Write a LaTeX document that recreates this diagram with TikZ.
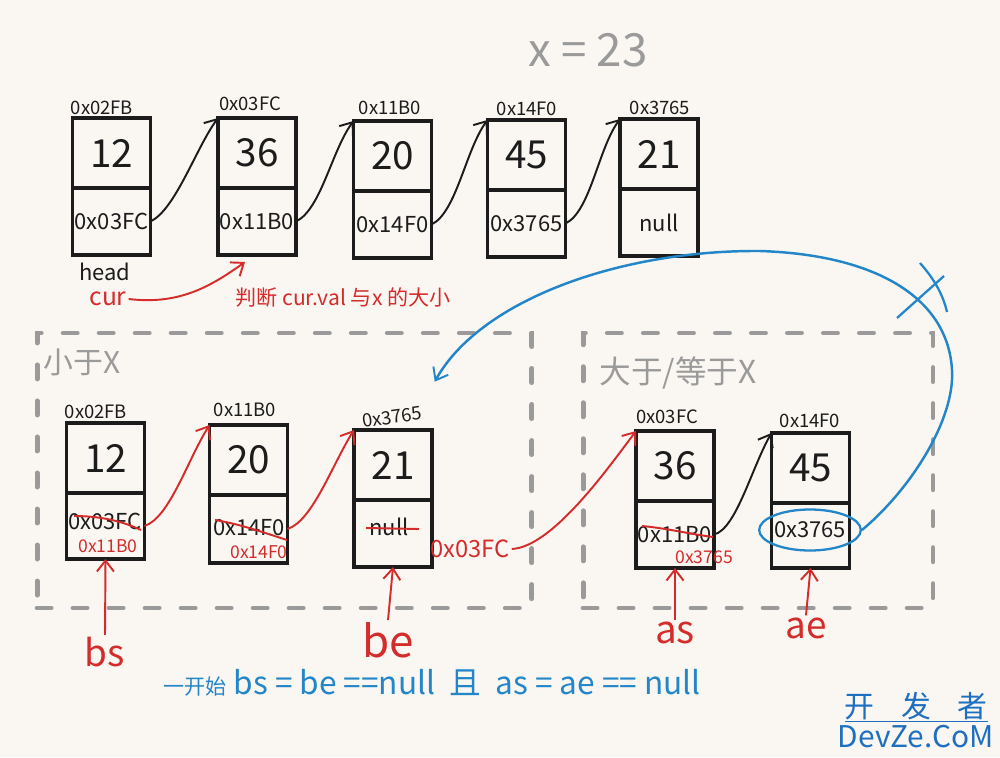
\documentclass[tikz,border=0pt]{standalone}
\usepackage{fontspec}
\setmainfont{Noto Sans CJK SC}
\usetikzlibrary{arrows.meta,shapes.geometric}
\definecolor{bg}{HTML}{FAF7F2}
\definecolor{inkred}{HTML}{D42B2B}
\definecolor{inkblue}{HTML}{2386C8}
\definecolor{inkgray}{HTML}{9A9A9A}
\definecolor{ink}{HTML}{1C1C1C}
\definecolor{wmblue}{HTML}{1F6FC1}
\newcommand{\fs}[1]{\fontsize{#1}{#1}\selectfont}
\begin{document}
\begin{tikzpicture}[x=0.02cm,y=-0.02cm,
  valbox/.style={draw=ink, line width=2pt, outer sep=0pt, minimum width=1.56cm, minimum height=1.4cm, inner sep=0pt, text=ink, font=\fs{22}},
  ptrbox/.style={draw=ink, line width=2pt, outer sep=0pt, minimum width=1.56cm, minimum height=1.34cm, inner sep=0pt, text=ink, font=\fs{12.5}},
  addr/.style={text=ink, font=\fs{10.5}, inner sep=1pt},
  ptrtext/.style={text=ink, font=\fs{12.5}, inner sep=1pt},
  newval/.style={text=inkred, font=\fs{10}, inner sep=1pt},
  tip/.style={-{Straight Barb[length=2.2mm,width=3.4mm,line width=1.1pt]}},
  link/.style={draw=ink, line width=1.1pt, tip},
  redlink/.style={draw=inkred, line width=1.1pt, tip},
  bluelink/.style={draw=inkblue, line width=1.4pt, tip},
  strike/.style={draw=inkred, line width=1.1pt},
  groupbox/.style={draw=inkgray, line width=2.8pt, dash pattern=on 8pt off 12.5pt, line cap=round, inner sep=0pt},
  grouplabel/.style={text=inkgray, font=\fs{17}, inner sep=0pt},
  ptrlabel/.style={text=inkred, inner sep=1pt}
]
\useasboundingbox[fill=bg] (0,0) rectangle (1000,757);

% title
\node[text=inkgray, font=\fs{26}] (xeq) at (588,50) {x = 23};

% ---------- top list ----------
\node[valbox, anchor=north] (t1v) at (111.5,118) {12};
\node[ptrbox, anchor=north] (t1p) at (t1v.south) {0x03FC};
\node[valbox, anchor=north] (t2v) at (257,118) {36};
\node[ptrbox, anchor=north] (t2p) at (t2v.south) {0x11B0};
\node[valbox, anchor=north] (t3v) at (392.5,121) {20};
\node[ptrbox, anchor=north] (t3p) at (t3v.south) {0x14F0};
\node[valbox, anchor=north] (t4v) at (526.5,120) {45};
\node[ptrbox, anchor=north] (t4p) at (t4v.south) {0x3765};
\node[valbox, anchor=north] (t5v) at (659,119) {21};
\node[ptrbox, anchor=north] (t5p) at (t5v.south) {null};

\node[addr] (t1a) at (102,108) {0x02FB};
\node[addr] (t2a) at (250,104) {0x03FC};
\node[addr] (t3a) at (390,108) {0x11B0};
\node[addr] (t4a) at (527,109) {0x14F0};
\node[addr] (t5a) at (660,108) {0x3765};

\draw[link] (t1p.east) .. controls +(25,-12) and +(-22,30) .. (t2v.north west);
\draw[link] (t2p.east) .. controls +(25,-12) and +(-22,30) .. (t3v.north west);
\draw[link] (t3p.east) .. controls +(25,-12) and +(-22,30) .. (t4v.north west);
\draw[link] (t4p.east) .. controls +(25,-12) and +(-22,30) .. (t5v.north west);

\node[text=ink, font=\fs{12.5}, inner sep=1pt] (head) at (105,272) {head};
\node[text=inkred, font=\fs{14}, inner sep=1pt] (cur) at (108,299) {cur};
\coordinate (curtip) at (245,262);
\draw[redlink] (cur.east) .. controls +(50,6) and +(-35,25) .. (curtip);
\node[text=inkred, font=\fs{12}, inner sep=1pt] (judge) at (343,298) {判断 cur.val 与x 的大小};

% ---------- groups ----------
\node[groupbox, minimum width=9.9cm, minimum height=5.5cm] (less) at (284.5,470.5) {};
\node[groupbox, minimum width=7cm, minimum height=5.5cm] (more) at (758,470.5) {};
\node[grouplabel] (lessl) at (82,362) {小于X};
\node[grouplabel, font=\fs{18}] (morel) at (678,373) {大于/等于X};

% ---------- bottom lists ----------
\node[valbox, anchor=north] (b1v) at (105.5,423) {12};
\node[ptrbox, anchor=north, minimum height=1.32cm] (b1p) at (b1v.south) {};
\node[valbox, anchor=north] (b2v) at (248.5,425) {20};
\node[ptrbox, anchor=north, minimum height=1.36cm] (b2p) at (b2v.south) {};
\node[valbox, anchor=north] (b3v) at (393,430) {21};
\node[ptrbox, anchor=north, minimum height=1.34cm] (b3p) at (b3v.south) {};
\node[valbox, anchor=north] (b4v) at (675,431) {36};
\node[ptrbox, anchor=north, minimum height=1.34cm] (b4p) at (b4v.south) {};
\node[valbox, anchor=north] (b5v) at (810.5,433) {45};
\node[ptrbox, anchor=north, minimum height=1.3cm] (b5p) at (b5v.south) {};

\node[addr] (b1a) at (96,412) {0x02FB};
\node[addr] (b2a) at (245,410) {0x11B0};
\node[addr, rotate=8] (b3a) at (392,417) {0x3765};
\node[addr] (b4a) at (667,417) {0x03FC};
\node[addr] (b5a) at (810,421) {0x14F0};

% pointer texts
\node[ptrtext] (b1o) at (105,521) {0x03FC};
\node[newval] (b1n) at (108,546) {0x11B0};
\draw[strike] (74,516) .. controls (100,516) and (122,521) .. (141,530);
\node[ptrtext] (b2o) at (249,528) {0x14F0};
\node[newval] (b2n) at (259,552) {0x14F0};
\draw[strike] (215,520) .. controls (240,524) and (265,533) .. (287,540);
\node[ptrtext] (b3o) at (389,527) {null};
\draw[strike] (366,528) -- (419,529);
\node[newval, font=\fs{13.5}] (b3n) at (470,549) {0x03FC};
\node[ptrtext] (b4o) at (675,535) {0x11B0};
\draw[strike] (642,526) .. controls (665,528) and (690,534) .. (713,537);
\node[newval] (b4n) at (704,557) {0x3765};
\node[draw=inkblue, line width=1.3pt, ellipse, minimum width=1.72cm, minimum height=0.82cm, inner sep=0pt, text=ink, font=\fs{12.5}] (circ) at (810,530) {0x3765};

% links
\draw[redlink] (b1p.east) .. controls +(25,-8) and +(-22,35) .. (b2v.north west);
\draw[redlink] (b2p.east) .. controls +(25,-8) and +(-22,35) .. (b3v.north west);
\draw[redlink] (b3n.east) .. controls +(40,-2) and +(-30,40) .. (b4v.north west);
\draw[link] (b4p.east) .. controls +(22,-5) and +(-20,35) .. (b5v.north west);

\draw[bluelink] (circ.east) .. controls (910,490) and (955,420) .. (952,370)
  .. controls (948,300) and (880,255) .. (760,251)
  .. controls (620,250) and (480,300) .. ([shift={(12,-22)}]b3a.north east);
\draw[draw=inkblue, line width=1.3pt] (897,318) -- (944,276);
\draw[draw=inkblue, line width=1.3pt] (920,263) .. controls (935,280) and (943,295) .. (947,312);

% pointer labels
\node[ptrlabel, font=\fs{21}] (bs) at (105,652) {bs};
\node[ptrlabel, font=\fs{25}] (be) at (388,640) {be};
\node[ptrlabel, font=\fs{22}] (as) at (675,633) {as};
\node[ptrlabel, font=\fs{21}] (ae) at (806,628) {ae};
\draw[redlink] (bs.north) -- (b1p.south);
\draw[redlink] (be.north) -- (b3p.south);
\draw[redlink] (as.north) -- (b4p.south);
\draw[redlink] (ae.north) -- (b5p.south);

% note
\node[text=inkblue, font=\fs{18}, inner sep=0pt] (note) at (432,683) {{\fs{12}一开始} bs = be ==null\ \ 且\ \ as = ae == null};

% watermark
\node[text=wmblue, font=\fs{17}, inner sep=0pt] (wm1) at (916,706) {开\hspace{15pt}发\hspace{15pt}者};
\node[text=wmblue, font=\fs{17}, inner sep=0pt] (wm2) at (916,737) {DevZe.CoM};
\draw[wmblue, line width=0.4pt] (845,721) -- (988,721);
\end{tikzpicture}
\end{document}
